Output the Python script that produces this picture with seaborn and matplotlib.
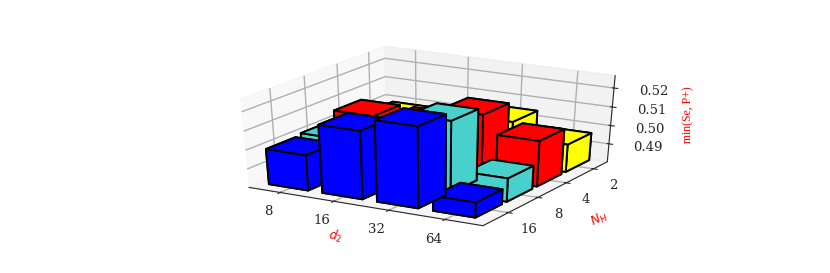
import numpy as np
import matplotlib
matplotlib.use('Agg')
import matplotlib.pyplot as plt
import seaborn as sns

d2_labels = ['8', '16', '32', '64']
nh_labels = ['16', '8', '4', '2']
z_ticks = [0.49, 0.50, 0.51, 0.52]

vals_16 = [0.499, 0.516, 0.5225, 0.488]
vals_8 = [0.500, 0.505, 0.518, 0.4925]
vals_4 = [0.505, 0.505, 0.514, 0.5045]
vals_2 = [0.497, 0.497, 0.503, 0.495]
colors = ['blue', 'mediumturquoise', 'red', 'yellow']

sns.set_style('white')
plt.rcParams['font.family'] = ['DejaVu Serif']
plt.rcParams['grid.color'] = '#b0b0b0'
plt.rcParams['grid.linewidth'] = 1.0

fig = plt.figure(figsize=(8.3, 2.73), dpi=100)
ax = fig.add_axes([0.262, 0.125, 0.502, 0.765], projection='3d')
ax.apply_aspect = lambda position=None: None   # dejar que se estire a lo ancho

z0 = 0.48
for j, vals in enumerate([vals_16, vals_8, vals_4, vals_2]):
    for i, v in enumerate(vals):
        ax.bar3d(0.16 + 0.95 * i, 0.3 + 0.95 * j, z0, 0.7, 0.8, v - z0, color=colors[j],
                 edgecolor='black', linewidth=1.4, shade=False)

ax.set_xlim(0, 4)
ax.set_ylim(0, 4)
ax.set_zlim(z0, 0.5265)
ax.set_xticks(0.56 + 0.94 * np.arange(4))
ax.set_xticklabels(d2_labels)
ax.set_yticks(0.76 + 0.92 * np.arange(4))
ax.set_yticklabels(nh_labels)
ax.set_zticks(z_ticks)
ax.set_zticklabels(['%.2f' % t for t in z_ticks])
ax.tick_params(labelsize=9.5, pad=2)
ax.tick_params(axis='z', pad=5)
ax.grid(True)

ax.set_xlabel(r'$d_2$', color='red', fontsize=9, family='Liberation Serif', labelpad=2)
ax.set_ylabel(r'$N_H$', color='red', fontsize=9, family='Liberation Serif', labelpad=5)
ax.zaxis.set_rotate_label(False)
ax.set_zlabel('min(Se, P+)', color='red', fontsize=8.5, family='Liberation Serif',
              rotation=90, labelpad=5)

fig.savefig('out.png', dpi=100)
